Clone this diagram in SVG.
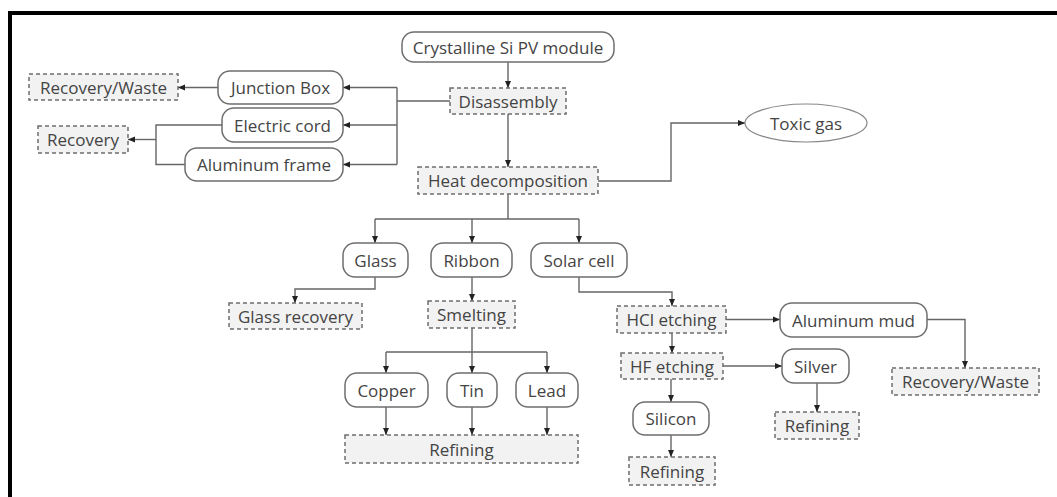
<svg xmlns="http://www.w3.org/2000/svg" width="1057" height="497" viewBox="0 0 1057 497">
<defs>
<marker id="ah" markerUnits="userSpaceOnUse" markerWidth="8" markerHeight="8" viewBox="0 0 8 8" refX="7" refY="4" orient="auto">
<path d="M0,1 L7,4 L0,7 Z" fill="#222"/>
</marker>
<style>
.r{fill:#fff;stroke:#6e6e6e;stroke-width:1.5}
.d{fill:#f2f2f2;stroke:#6e6e6e;stroke-width:1.5;stroke-dasharray:4 3}
.t{font-family:"Open Sans","Noto Sans",sans-serif;font-size:17px;fill:#444;text-anchor:middle;dominant-baseline:central}
.c{fill:none;stroke:#666;stroke-width:1.4}
.a{marker-end:url(#ah)}
</style>
</defs>
<rect width="1057" height="497" fill="#fff"/>
<g id="frame">
<line x1="8" y1="13" x2="1057" y2="13" stroke="#000" stroke-width="4"/>
<line x1="10" y1="11" x2="10" y2="497" stroke="#000" stroke-width="4"/>
</g>
<g id="connectors">
<path class="c a" d="M508,62 V88"/>
<path class="c" d="M450,101 H397 M397,87.5 V164.5"/>
<path class="c a" d="M397,87.5 H343"/>
<path class="c a" d="M397,125 H343"/>
<path class="c a" d="M397,164.5 H343"/>
<path class="c a" d="M218,87.5 H178"/>
<path class="c" d="M222,125 H156 V164.5 H185"/>
<path class="c a" d="M156,139.5 H128"/>
<path class="c a" d="M508,114 V167"/>
<path class="c a" d="M598,181 H671 V123 H745"/>
<path class="c" d="M508,194 V219 M375,219 H579"/>
<path class="c a" d="M375,219 V243"/>
<path class="c a" d="M472,219 V243"/>
<path class="c a" d="M579,219 V243"/>
<path class="c a" d="M375,277 V289 H295 V303"/>
<path class="c a" d="M472,277 V301"/>
<path class="c a" d="M579,277 V292 H672 V306"/>
<path class="c a" d="M726,319.5 H780"/>
<path class="c a" d="M927,319.5 H965 V368"/>
<path class="c a" d="M672,333 V353"/>
<path class="c a" d="M723,366 H782"/>
<path class="c a" d="M817,383 V412"/>
<path class="c a" d="M671,379 V402"/>
<path class="c a" d="M671,435 V457"/>
<path class="c" d="M472,328 V352 M386,352 H547"/>
<path class="c a" d="M386,352 V373"/>
<path class="c a" d="M472,352 V373"/>
<path class="c a" d="M547,352 V373"/>
<path class="c a" d="M386,407 V435"/>
<path class="c a" d="M472,407 V435"/>
<path class="c a" d="M547,407 V435"/>
</g>
<g id="crystalline"><rect class="r" x="402" y="32" width="212" height="30" rx="12"/><text class="t" x="508" y="47">Crystalline Si PV module</text></g>
<g id="disassembly"><rect class="d" x="450" y="88" width="116" height="26"/><text class="t" x="508" y="101">Disassembly</text></g>
<g id="junction"><rect class="r" x="218" y="71" width="125" height="33" rx="12"/><text class="t" x="280.5" y="87.5">Junction Box</text></g>
<g id="cord"><rect class="r" x="222" y="108" width="121" height="34" rx="12"/><text class="t" x="282.5" y="125">Electric cord</text></g>
<g id="alframe"><rect class="r" x="185" y="148" width="158" height="33" rx="12"/><text class="t" x="264" y="164.5">Aluminum frame</text></g>
<g id="recwaste1"><rect class="d" x="29" y="74" width="149" height="26"/><text class="t" x="103.5" y="87">Recovery/Waste</text></g>
<g id="recovery"><rect class="d" x="38" y="126" width="90" height="27"/><text class="t" x="83" y="139.5">Recovery</text></g>
<g id="heat"><rect class="d" x="418" y="167" width="180" height="27"/><text class="t" x="508" y="180.5">Heat decomposition</text></g>
<g id="toxic"><ellipse cx="806" cy="123" rx="61" ry="19" fill="#fff" stroke="#888" stroke-width="1.2"/><text class="t" x="806" y="123">Toxic gas</text></g>
<g id="glass"><rect class="r" x="343" y="243" width="65" height="34" rx="12"/><text class="t" x="375.5" y="260">Glass</text></g>
<g id="ribbon"><rect class="r" x="431" y="243" width="81" height="34" rx="12"/><text class="t" x="471.5" y="260">Ribbon</text></g>
<g id="solar"><rect class="r" x="531" y="243" width="96" height="34" rx="12"/><text class="t" x="579" y="260">Solar cell</text></g>
<g id="glassrec"><rect class="d" x="229" y="303" width="133" height="26"/><text class="t" x="295.5" y="316">Glass recovery</text></g>
<g id="smelting"><rect class="d" x="428" y="301" width="87" height="27"/><text class="t" x="471.5" y="314.5">Smelting</text></g>
<g id="hcl"><rect class="d" x="617" y="306" width="109" height="27"/><text class="t" x="671.5" y="319.5">HCl etching</text></g>
<g id="almud"><rect class="r" x="780" y="303" width="147" height="34" rx="12"/><text class="t" x="853.5" y="320">Aluminum mud</text></g>
<g id="hf"><rect class="d" x="621" y="353" width="102" height="26"/><text class="t" x="672" y="366">HF etching</text></g>
<g id="silver"><rect class="r" x="782" y="349" width="67" height="34" rx="12"/><text class="t" x="815.5" y="366">Silver</text></g>
<g id="recwaste2"><rect class="d" x="892" y="368" width="147" height="27"/><text class="t" x="965.5" y="381.5">Recovery/Waste</text></g>
<g id="copper"><rect class="r" x="345" y="373" width="83" height="34" rx="12"/><text class="t" x="386.5" y="390">Copper</text></g>
<g id="tin"><rect class="r" x="447" y="373" width="50" height="34" rx="12"/><text class="t" x="472" y="390">Tin</text></g>
<g id="lead"><rect class="r" x="516" y="373" width="62" height="34" rx="12"/><text class="t" x="547" y="390">Lead</text></g>
<g id="refining1"><rect class="d" x="345" y="435" width="233" height="28"/><text class="t" x="461.5" y="449">Refining</text></g>
<g id="silicon"><rect class="r" x="633" y="402" width="76" height="33" rx="12"/><text class="t" x="671" y="418.5">Silicon</text></g>
<g id="refsilver"><rect class="d" x="775" y="412" width="84" height="27"/><text class="t" x="817" y="425.5">Refining</text></g>
<g id="refsilicon"><rect class="d" x="629" y="457" width="86" height="28"/><text class="t" x="672" y="471">Refining</text></g>
</svg>
